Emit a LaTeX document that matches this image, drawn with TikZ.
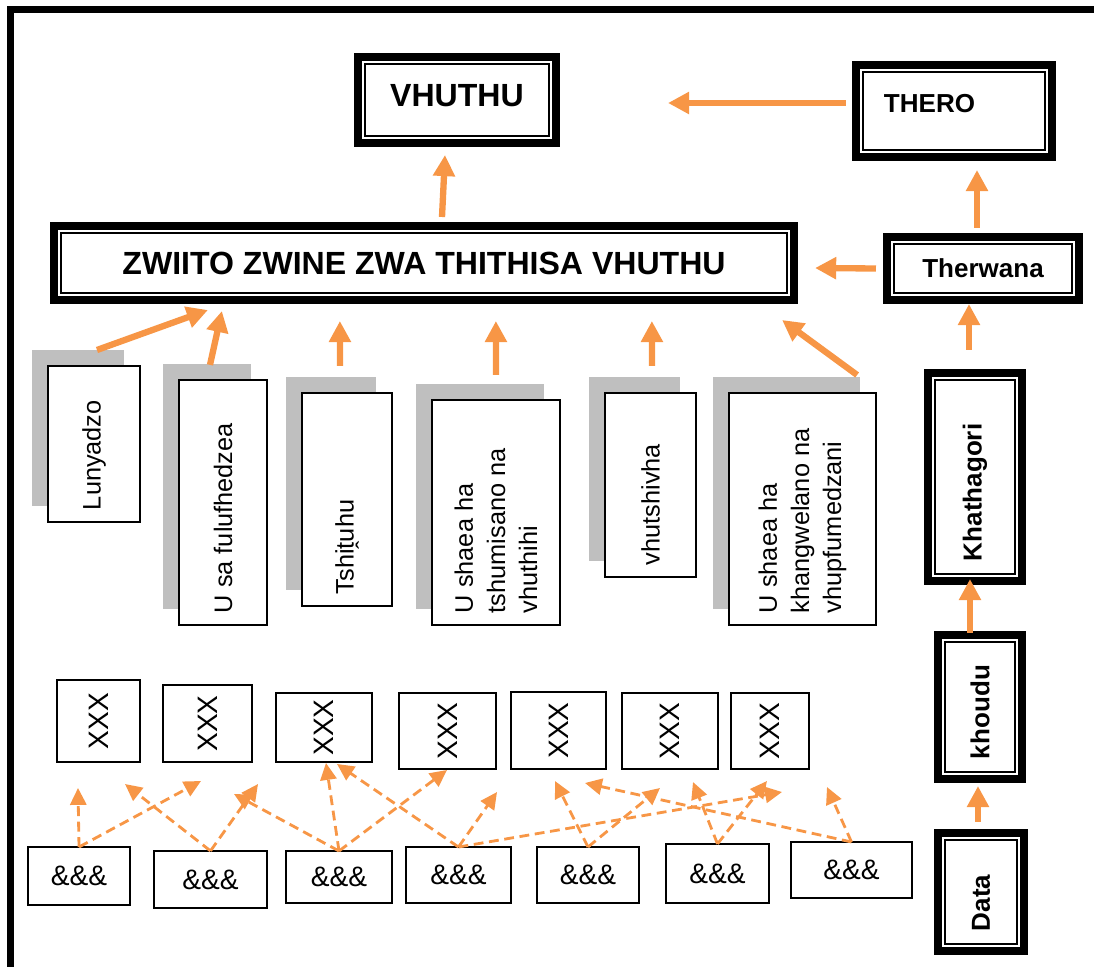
\documentclass[tikz,border=0pt]{standalone}
\usepackage{fontspec}
\setmainfont{Liberation Sans}
\usepackage{graphicx}
\usepackage{tikz}
\usetikzlibrary{arrows.meta}
\usetikzlibrary{calc}
\usetikzlibrary{shadows}

\definecolor{arroworange}{HTML}{F79646}
\definecolor{shadowgray}{HTML}{BFBFBF}

% text turned to read upwards, starting at the bottom
\newcommand{\vtext}[2]{\rotatebox{90}{\parbox{#1}{\raggedright #2}}}

\begin{document}
\begin{tikzpicture}[
    x=0.025cm, y=-0.025cm,
    every node/.style={inner sep=0pt, outer sep=0pt, font=\fontsize{18}{22.8}\selectfont},
    bigbold/.style={font=\bfseries\fontsize{22.8}{27}\selectfont},
    smallbold/.style={font=\bfseries\fontsize{18.5}{22}\selectfont},
    thickbox/.style={draw, line width=5.3pt, fill=white,
      path picture={\draw[line width=1.6pt]
        ([shift={(5pt,-5pt)}]path picture bounding box.north west) rectangle
        ([shift={(-5pt,5pt)}]path picture bounding box.south east);}},
    itembox/.style={draw, line width=1.2pt, fill=white,
      drop shadow={shadow xshift=-0.4cm, shadow yshift=0.4cm, fill=shadowgray, opacity=1}},
    smallbox/.style={draw, line width=1pt, fill=white, font=\fontsize{20}{24}\selectfont},
    bigarrow/.style={draw=arroworange, line width=4.5pt, -{Triangle[length=15pt, width=15pt]}},
    dasharrow/.style={draw=arroworange, line width=2pt, dash pattern=on 7pt off 4pt,
      -{Triangle[length=12pt, width=11.5pt]}},
  ]

  \useasboundingbox (0,0) rectangle (1094,967);

  % page frame
  \draw[line width=4.6pt, line join=miter] (10.5,1000) -- (10.5,9.5) -- (1120,9.5);

  % top
  \node[thickbox, bigbold, minimum width=4.95cm, minimum height=2.15cm, text depth=6pt]
    (vhuthu) at (457,100) {VHUTHU};
  \node[thickbox, smallbold, minimum width=4.9cm, minimum height=2.3cm,
    text width=3.5cm, align=left, text depth=11pt]
    (thero) at (954,111) {THERO};
  \node[thickbox, bigbold, minimum width=18.5cm, minimum height=1.85cm]
    (zwiito) at (424,263) {ZWIITO ZWINE ZWA THITHISA VHUTHU};
  \node[thickbox, smallbold, minimum width=4.8cm, minimum height=1.575cm]
    (therwana) at (983,268.5) {Therwana};

  % right column
  \node[thickbox, smallbold, minimum width=2.35cm, minimum height=5.2cm]
    (khath) at (975,477) {\vtext{4.2cm}{Khathagori}};
  \node[thickbox, smallbold, minimum width=2.1cm, minimum height=3.6cm]
    (khoudu) at (980,707) {\vtext{2.6cm}{khoudu}};
  \node[thickbox, smallbold, minimum width=2.15cm, minimum height=2.95cm]
    (data) at (981,892) {\vtext{1.95cm}{Data}};

  % middle row
  \node[itembox, minimum width=2.31cm, minimum height=3.9cm]
    (lun) at (94,444) {\vtext{3.3cm}{Lunyadzo}};
  \node[itembox, minimum width=2.2cm, minimum height=6.13cm]
    (ful) at (223,502.5) {\vtext{5.53cm}{U sa fulufhedzea}};
  \node[itembox, minimum width=2.25cm, minimum height=5.33cm]
    (tsh) at (347,499.5) {\vtext{4.73cm}{Tshiṱuhu}};
  \node[itembox, minimum width=3.2cm, minimum height=5.63cm]
    (ush) at (496,512.5) {\vtext{5.03cm}{U shaea ha\\ tshumisano na\\ vhuthihi}};
  \node[itembox, minimum width=2.28cm, minimum height=4.6cm]
    (vhu) at (650.5,485) {\vtext{4.0cm}{vhutshivha}};
  \node[itembox, minimum width=3.68cm, minimum height=5.8cm]
    (ukh) at (802.5,509) {\vtext{5.2cm}{U shaea ha\\ khangwelano na\\ vhupfumedzani}};

  % XXX row
  \node[smallbox, minimum width=2.08cm, minimum height=2.05cm] (xxx1) at (98.5,721)  {\rotatebox{90}{XXX}};
  \node[smallbox, minimum width=2.23cm, minimum height=1.93cm] (xxx2) at (207.5,723.5) {\rotatebox{90}{XXX}};
  \node[smallbox, minimum width=2.4cm,  minimum height=1.73cm] (xxx3) at (324,727.5) {\rotatebox{90}{XXX}};
  \node[smallbox, minimum width=2.43cm, minimum height=1.9cm]  (xxx4) at (447.5,731) {\rotatebox{90}{XXX}};
  \node[smallbox, minimum width=2.38cm, minimum height=1.93cm] (xxx5) at (558.5,730.5) {\rotatebox{90}{XXX}};
  \node[smallbox, minimum width=2.4cm,  minimum height=1.9cm]  (xxx6) at (670,731)   {\rotatebox{90}{XXX}};
  \node[smallbox, minimum width=1.95cm, minimum height=1.9cm]  (xxx7) at (770,731)   {\rotatebox{90}{XXX}};

  % &&& row
  \node[smallbox, minimum width=2.55cm, minimum height=1.45cm] (amp1) at (79,876)    {\&\&\&};
  \node[smallbox, minimum width=2.83cm, minimum height=1.43cm] (amp2) at (210.5,879.5) {\&\&\&};
  \node[smallbox, minimum width=2.65cm, minimum height=1.3cm]  (amp3) at (339,877)   {\&\&\&};
  \node[smallbox, minimum width=2.63cm, minimum height=1.4cm]  (amp4) at (458.5,875) {\&\&\&};
  \node[smallbox, minimum width=2.55cm, minimum height=1.4cm]  (amp5) at (588,875)   {\&\&\&};
  \node[smallbox, minimum width=2.58cm, minimum height=1.48cm] (amp6) at (717.5,873.5) {\&\&\&};
  \node[smallbox, minimum width=3.03cm, minimum height=1.4cm]  (amp7) at (851.5,870) {\&\&\&};

  % solid arrows
  \draw[bigarrow] ($(thero.west)+(-10,-8)$)    -- ($(vhuthu.east)+(112,3)$);
  \draw[bigarrow] ($(zwiito.north)+(18,-9)$)   -- ($(vhuthu.south)+(-12,12)$);
  \draw[bigarrow] ($(therwana.west)+(-11,0)$)  -- ($(zwiito.east)+(21,5)$);
  \draw[bigarrow] ($(therwana.north)+(-6,-9)$) -- ($(thero.south)+(23,13)$);
  \draw[bigarrow] ($(khath.north)+(-6,-23)$)   -- ($(therwana.south)+(-14,4)$);
  \draw[bigarrow] ($(khoudu.north)+(-10,-2)$)  -- ($(khath.south)+(-5,-2)$);
  \draw[bigarrow] ($(data.north)+(-3,-11)$)    -- ($(khoudu.south)+(-2,7)$);

  \draw[bigarrow] ($(lun.north)+(3,-16)$)        -- ($(zwiito.south west)+(154,10)$);
  \draw[bigarrow] ($(ful.north)+(-13,-15)$)      -- ($(zwiito.south west)+(168,11)$);
  \draw[bigarrow] ($(tsh.north)+(-7,-27)$)       -- ($(zwiito.south west)+(286,21)$);
  \draw[bigarrow] ($(ush.north)+(0,-25)$)        -- ($(zwiito.south west)+(442,21)$);
  \draw[bigarrow] ($(vhu.north)+(1.5,-27)$)      -- ($(zwiito.south west)+(598,21)$);
  \draw[bigarrow] ($(ukh.north east)+(-19,-18)$) -- ($(zwiito.south east)+(-12,20)$);

  % dashed arrows, ends below the XXX row
  \coordinate (t1)  at (78,788);
  \coordinate (t2)  at (201,781);
  \coordinate (t3)  at (125,784);
  \coordinate (t4)  at (258,784);
  \coordinate (t5)  at (234,794);
  \coordinate (t6)  at (326,763);
  \coordinate (t7)  at (447,770);
  \coordinate (t8)  at (337,764);
  \coordinate (t9)  at (497,792);
  \coordinate (t10) at (782,792);
  \coordinate (t11) at (555,781);
  \coordinate (t12) at (660,788);
  \coordinate (t13) at (693,782);
  \coordinate (t14) at (767,781);
  \coordinate (t15) at (585,783);
  \coordinate (t16) at (827,787);

  \draw[dasharrow] (amp1.north) -- (t1);
  \draw[dasharrow] (amp1.north) -- (t2);
  \draw[dasharrow] (amp2.north) -- (t3);
  \draw[dasharrow] (amp2.north) -- (t4);
  \draw[dasharrow] (amp3.north) -- (t5);
  \draw[dasharrow] (amp3.north) -- (t6);
  \draw[dasharrow] (amp3.north) -- (t7);
  \draw[dasharrow] (amp4.north) -- (t8);
  \draw[dasharrow] (amp4.north) -- (t9);
  \draw[dasharrow] (amp4.north) -- (t10);
  \draw[dasharrow] (amp5.north) -- (t11);
  \draw[dasharrow] (amp5.north) -- (t12);
  \draw[dasharrow] (amp6.north) -- (t13);
  \draw[dasharrow] (amp6.north) -- (t14);
  \draw[dasharrow] (amp7.north) -- (t15);
  \draw[dasharrow] (amp7.north) -- (t16);

\end{tikzpicture}
\end{document}
